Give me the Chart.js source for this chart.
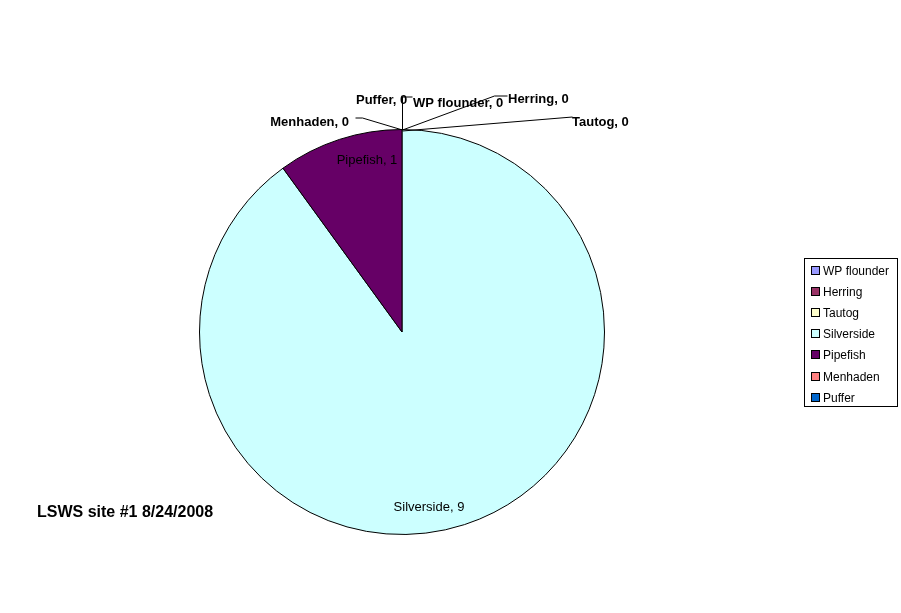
<!DOCTYPE html>
<html><head><meta charset="utf-8">
<script src="https://cdn.jsdelivr.net/npm/chart.js@4.4.1/dist/chart.umd.min.js"></script>
<style>html,body{margin:0;padding:0;background:#fff}canvas{display:block}</style>
</head><body>
<canvas id="c" width="901" height="613"></canvas>
<script>
// ---- data ----
const categories = ["WP flounder","Herring","Tautog","Silverside","Pipefish","Menhaden","Puffer"];
const counts = [0,0,0,9,1,0,0];
const sliceColors = ["#9999FF","#993366","#FFFFCC","#CCFFFF","#660066","#FF8080","#0066CC"];
const chartTitle = "LSWS site #1 8/24/2008";

// ---- label layout (relative to pie top point for outside labels, to centre for inside) ----
const labelLayout = {
  0:{ref:'top',dx:11,dy:-26.5,align:'left',bold:true,leader:[]},
  1:{ref:'top',dx:106,dy:-30,align:'left',bold:true,leader:[[0,0],[92,-34],[105,-34]]},
  2:{ref:'top',dx:170,dy:-7.5,align:'left',bold:true,leader:[[0,1],[170,-13]]},
  3:{ref:'center',dx:27,dy:175,align:'center',bold:false},
  4:{ref:'center',dx:-35,dy:-172,align:'center',bold:false},
  5:{ref:'top',dx:-53,dy:-7.5,align:'right',bold:true,leader:[[-47,-12],[-40,-12],[0,0]]},
  6:{ref:'top',dx:-46,dy:-29,align:'left',bold:true,leader:[[0,0],[0,-33],[10,-33]]}
};

const decorPlugin = {
  id:'decor',
  beforeDraw(chart){
    const ctx=chart.ctx; ctx.save(); ctx.fillStyle='#fff';
    ctx.fillRect(0,0,chart.width,chart.height); ctx.restore();
  },
  afterDraw(chart){
    const ctx=chart.ctx;
    const meta=chart.getDatasetMeta(0);
    const p=meta.data[0].getProps(['x','y','outerRadius'],true);
    const cx=p.x, cy=p.y, r=p.outerRadius;
    const tx=cx, ty=cy-r;
    ctx.save();
    ctx.textBaseline='middle';
    categories.forEach((name,i)=>{
      const L=labelLayout[i];
      const bx = L.ref==='top'?tx:cx, by = L.ref==='top'?ty:cy;
      if(L.leader && L.leader.length){
        ctx.strokeStyle='#000'; ctx.lineWidth=1;
        ctx.beginPath();
        L.leader.forEach((pt,k)=>{const X=bx+pt[0]+0.5, Y=by+pt[1]+0.5; k?ctx.lineTo(X,Y):ctx.moveTo(X,Y);});
        ctx.stroke();
      }
      ctx.font=(L.bold?'bold ':'')+'13px "Liberation Sans", Arial, sans-serif';
      ctx.textAlign=L.align;
      ctx.fillStyle='#000';
      ctx.fillText(name+', '+counts[i], bx+L.dx, by+L.dy);
    });
    // title
    ctx.font='bold 16px "Liberation Sans", Arial, sans-serif';
    ctx.textAlign='left';
    ctx.fillText(chartTitle, 37, 512.5);
    // legend
    const lx=804, ly=258, lw=93, lh=148;
    ctx.strokeStyle='#000'; ctx.lineWidth=1;
    ctx.strokeRect(lx+0.5,ly+0.5,lw,lh);
    ctx.font='12px "Liberation Sans", Arial, sans-serif';
    categories.forEach((name,i)=>{
      const y=271+i*21.1;
      const yy=Math.round(y);
      ctx.fillStyle=sliceColors[i];
      ctx.fillRect(812,yy-4,7,7);
      ctx.strokeStyle='#000';
      ctx.strokeRect(811.5,yy-4.5,8,8);
      ctx.fillStyle='#000';
      ctx.textAlign='left';
      ctx.fillText(name,823,yy+1);
    });
    ctx.restore();
  }
};

new Chart(document.getElementById('c'),{
  type:'pie',
  data:{labels:categories,datasets:[{data:counts,backgroundColor:sliceColors,borderColor:'#000',borderWidth:1,hoverOffset:0}]},
  options:{
    responsive:false,animation:false,
    events:[],
    layout:{padding:{left:199,right:296,top:129,bottom:78}},
    plugins:{legend:{display:false},tooltip:{enabled:false},title:{display:false}}
  },
  plugins:[decorPlugin]
});
</script>
</body></html>
